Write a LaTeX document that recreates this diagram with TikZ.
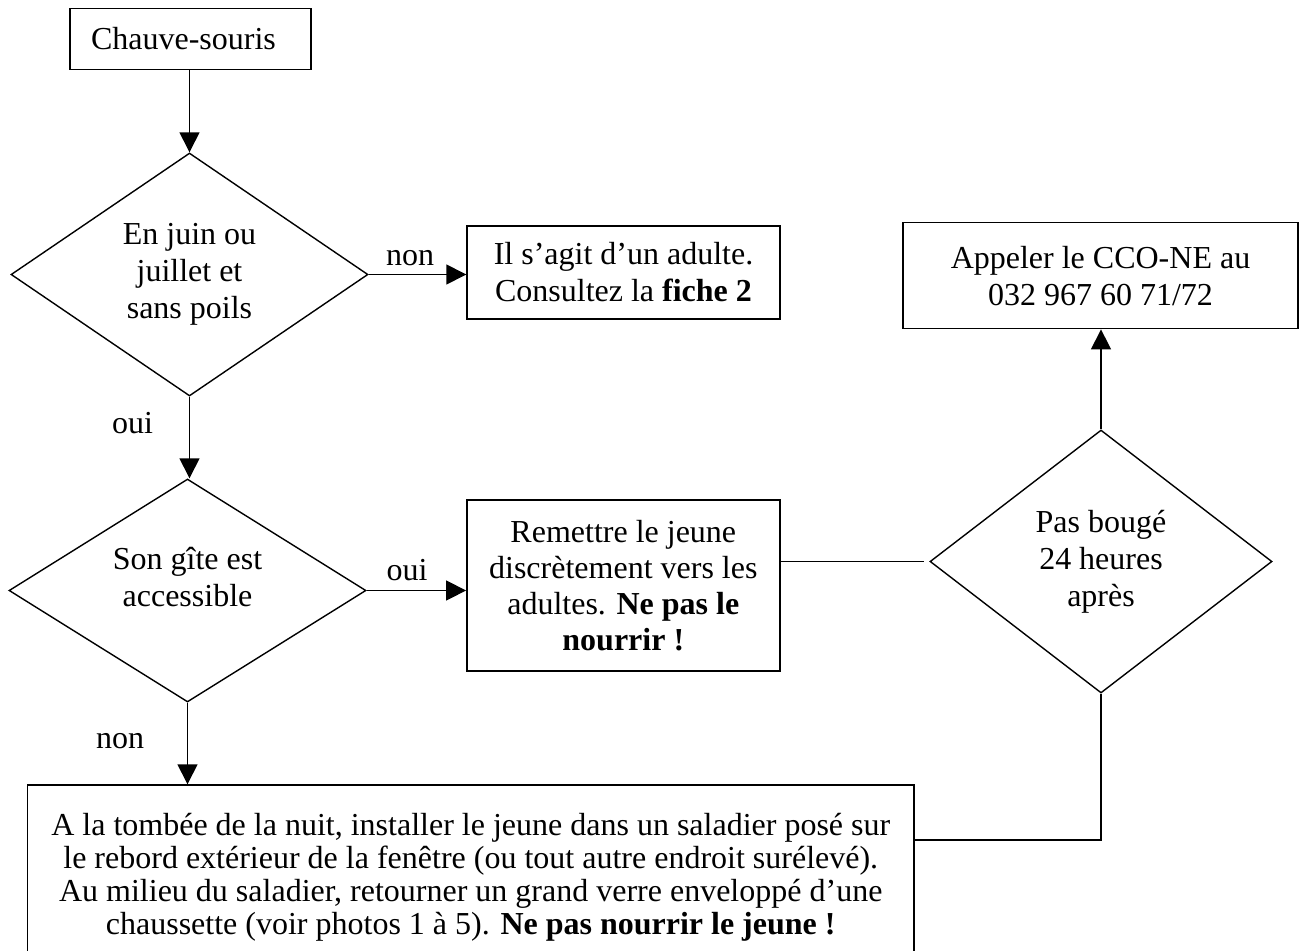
\documentclass[tikz,border=0pt]{standalone}
\usepackage{fontspec}
\setmainfont{Liberation Serif}
\usetikzlibrary{shapes.geometric,arrows.meta}
\newcommand\fsz{\fontsize{32}{37}\selectfont}
\begin{document}
\begin{tikzpicture}[x=1pt,y=-1pt,
  every node/.style={font=\fsz, inner sep=0pt},
  stroke/.style={line width=1.4pt},
  boxnode/.style={draw, stroke, rectangle, align=center},
  decision/.style={draw, stroke, diamond, align=center},
  arr/.style={stroke, -{Triangle[length=20pt,width=20pt]}},
  conn/.style={stroke},
  lbl/.style={anchor=base}]
\useasboundingbox (0,0) rectangle (1303,950);

% nodes
\node[boxnode, align=left, text width=199pt, inner xsep=21pt, minimum height=61pt] (start) at (190.5,38.8) {Chauve-souris};
\node[decision, minimum width=357pt, minimum height=243pt, aspect=1.47] (q1) at (189.5,274.5) {En juin ou\\juillet et\\sans poils};
\node[boxnode, minimum width=313pt, minimum height=93pt] (adult) at (623.5,272.4) {Il s’agit d’un adulte.\\Consultez la \textbf{fiche 2}};
\node[boxnode, minimum width=395pt, minimum height=106pt] (call) at (1100.5,275.7) {Appeler le CCO-NE au\\032 967 60 71/72};
\node[decision, minimum width=357pt, minimum height=223pt, aspect=1.6] (q2) at (187.5,590.5) {};
\node[align=center] (q2t) at (187.5,577.5) {Son gîte est\\accessible};
\node[boxnode, minimum width=313pt, minimum height=171pt, font=\fontsize{32}{36}\selectfont] (back) at (623.3,585.5) {Remettre le jeune\\discrètement vers les\\adultes. \textbf{Ne pas le}\\\textbf{nourrir !}};
\node[decision, minimum width=342pt, minimum height=263pt, aspect=1.3] (q3) at (1101,561.5) {Pas bougé\\24 heures\\après};
\node[boxnode, minimum width=886.5pt, minimum height=184pt, font=\fontsize{32}{33}\selectfont] (night) at (470.75,877) {A la tombée de la nuit, installer le jeune dans un saladier posé sur\\le rebord extérieur de la fenêtre (ou tout autre endroit surélevé).\\Au milieu du saladier, retourner un grand verre enveloppé d’une\\chaussette (voir photos 1 à 5). \textbf{Ne pas nourrir le jeune !}};
\coordinate (bend) at (1101,840);

% connectors
\draw[arr] (q1.north |- start.south) -- (q1.north);
\draw[arr] (q1.east) -- (q1.east -| adult.west)
  node[lbl, midway, xshift=-7.5pt, yshift=9pt] {non};
\draw[arr] (q1.south) -- (q1.south |- q2.north)
  node[lbl, midway, xshift=-57pt, yshift=4.5pt] {oui};
\draw[arr] (q2.east) -- (q2.east -| back.west)
  node[lbl, midway, xshift=-9.3pt, yshift=9.8pt] {oui};
\draw[arr] (q2.south) -- (q2.south |- night.north)
  node[lbl, midway, xshift=-67.5pt, yshift=-4.5pt] {non};
\draw[conn] (q3.west -| back.east) -- ([xshift=-5pt]q3.west);
\draw[arr] (q3.north) -- (q3.north |- call.south);
\draw[conn] (night.east |- bend) -- (bend) -- (q3.south);
\end{tikzpicture}
\end{document}
